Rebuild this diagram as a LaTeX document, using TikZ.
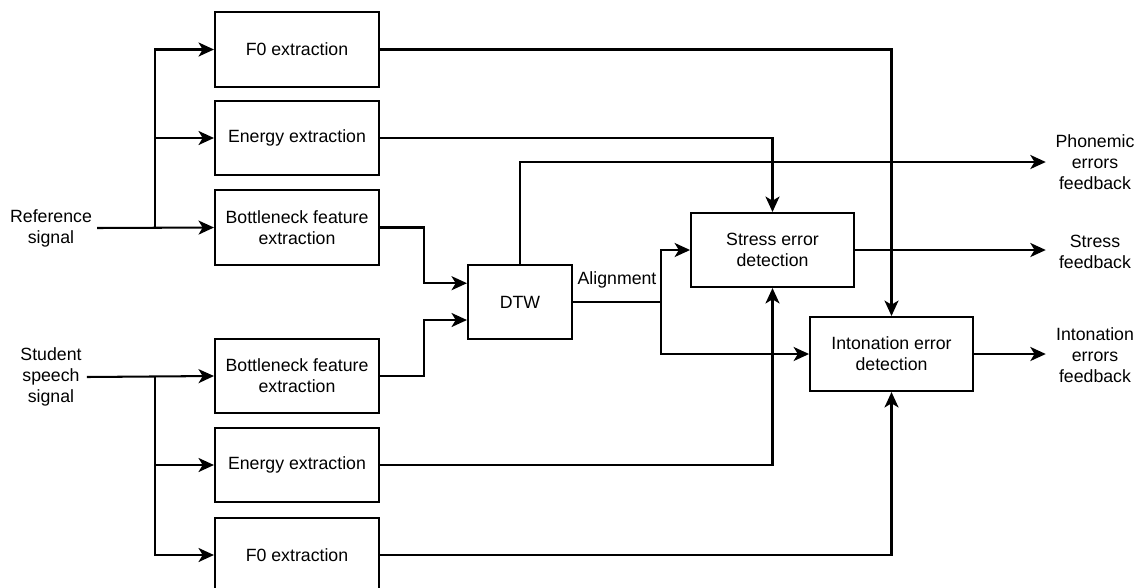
\documentclass[tikz,border=0pt]{standalone}
\usepackage{fontspec}
\setmainfont{Liberation Sans}
\usetikzlibrary{arrows.meta}

\begin{document}
\begin{tikzpicture}[x=0.025cm, y=-0.025cm, line width=1.45pt,
    font=\fontsize{12.6}{15}\selectfont]
    \tikzset{block/.style={draw, minimum width=4.1cm, minimum height=1.87cm, align=center},
             sig/.style={align=center, inner sep=3pt},
             feedback/.style={align=center, text width=2.05cm, inner xsep=0.18cm},
             arr/.style={-{Stealth[length=11pt, width=10pt, inset=3pt]}}}
    \useasboundingbox (0,0) rectangle (1136,587);

    % inputs
    \node[sig] (refsig) at (51,228) {Reference\\signal};
    \node[sig] (stusig) at (51,377) {Student\\speech\\signal};

    % feature extraction
    \node[block] (f0ref) at (297,49.5)  {F0 extraction};
    \node[block] (enref) at (297,138)   {Energy extraction};
    \node[block] (bnref) at (297,227.5) {Bottleneck feature\\extraction};
    \node[block] (bnstu) at (297,376)   {Bottleneck feature\\extraction};
    \node[block] (enstu) at (297,465)   {Energy extraction};
    \node[block] (f0stu) at (297,555)   {F0 extraction};

    \node[block, minimum width=2.6cm, minimum height=1.85cm] (dtw) at (520,302) {DTW};
    \node[block, minimum width=4.07cm, minimum height=1.85cm] (stress) at (772.5,250) {Stress error\\detection};
    \node[block, minimum width=4.07cm, minimum height=1.85cm] (inton) at (891.5,354) {Intonation error\\detection};

    % outputs
    \node[feedback] (phon)     at (1095,162) {Phonemic\\errors\\feedback};
    \node[feedback] (stressfb) at (1095,252) {Stress\\feedback};
    \node[feedback] (intfb)    at (1095,355) {Intonation\\errors\\feedback};

    \node (alig) at (617,280) {Alignment};

    \coordinate (rsplit) at (155,227.5);
    \coordinate (ssplit) at (155,376);
    \coordinate (asplit) at (661,302);

    % signal splitting
    \draw[arr] (refsig.east) -- (bnref.west);
    \foreach \b in {f0ref,enref}
        \draw[arr] (rsplit) |- (\b.west);
    \draw[arr] (stusig.east) -- (bnstu.west);
    \foreach \b in {enstu,f0stu}
        \draw[arr] (ssplit) |- (\b.west);

    % into DTW
    \draw[arr] (bnref.east) -- ++(44,0) |- ([yshift=0.47cm]dtw.west);
    \draw[arr] (bnstu.east) -- ++(44,0) |- ([yshift=-0.45cm]dtw.west);

    % alignment
    \draw (dtw.east) -- (asplit);
    \draw[arr] (asplit) |- (stress.west);
    \draw[arr] (asplit) |- (inton.west);
    \draw[arr] (dtw.north) |- (phon.west);

    % prosodic features
    \draw[arr] (f0ref.east) -| (inton.north);
    \draw[arr] (enref.east) -| (stress.north);
    \draw[arr] (enstu.east) -| (stress.south);
    \draw[arr] (f0stu.east) -| (inton.south);

    % feedback
    \draw[arr] (stress.east) -- (stress.east -| stressfb.west);
    \draw[arr] (inton.east) -- (inton.east -| intfb.west);
\end{tikzpicture}
\end{document}
